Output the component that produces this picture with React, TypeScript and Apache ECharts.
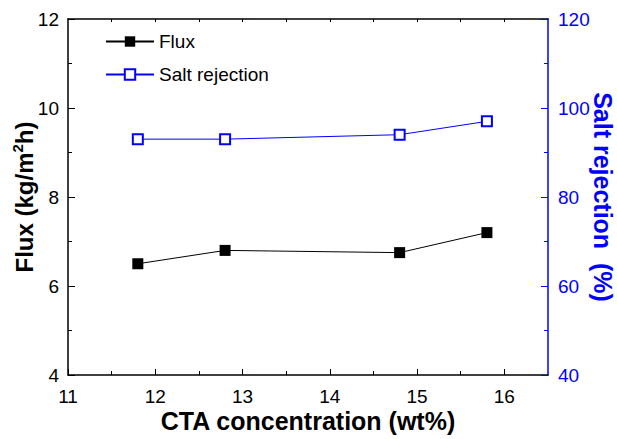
import React, { useEffect, useRef } from "react";
import * as echarts from "echarts";

const FONT = "'Liberation Sans', Arial, Helvetica, sans-serif";
const BLUE = "#0000ff";

const concentration = [11.8, 12.8, 14.8, 15.8];
const fluxValues = [6.5, 6.8, 6.75, 7.2];
const rejectionValues = [93, 93, 94, 97];
const xMajorTicks = [11, 12, 13, 14, 15, 16];
const xMinorTicks = [11.5, 12.5, 13.5, 14.5, 15.5];
const xTopTicks = [11.5, 12, 12.5, 13, 13.5, 14, 14.5, 15, 15.5, 16];

export default function App() {
  const ref = useRef<HTMLDivElement>(null);
  useEffect(() => {
    if (!ref.current) return;
    const chart = echarts.init(ref.current, undefined, { renderer: "svg" });
    const fluxData = concentration.map((x, i) => [x, fluxValues[i]]);
    const rejData = concentration.map((x, i) => [x, rejectionValues[i]]);
    const baseX = {
      type: "value",
      min: 11,
      max: 16.5,
      splitLine: { show: false },
    };
    chart.setOption({
      animation: false,
      backgroundColor: "#ffffff",
      textStyle: { fontFamily: FONT },
      grid: { left: 68, right: 69, top: 19, bottom: 64, containLabel: false, outerBoundsMode: "none" },
      legend: {
        orient: "vertical",
        left: 100,
        top: 27,
        itemWidth: 48,
        itemHeight: 13,
        itemGap: 14,
        textStyle: { fontSize: 19, color: "#000", fontFamily: FONT },
        data: ["Flux", "Salt rejection"],
      },
      xAxis: [
        {
          ...baseX,
          position: "bottom",
          name: "CTA concentration (wt%)",
          nameLocation: "middle",
          nameGap: 33,
          nameMoveOverlap: false,
          nameTextStyle: { fontSize: 25, fontWeight: "bold", color: "#000", fontFamily: FONT },
          axisLine: { show: true, onZero: false, lineStyle: { color: "#000", width: 1.5 } },
          axisTick: { show: true, inside: true, length: 6, customValues: xMajorTicks, lineStyle: { color: "#000", width: 1 } },
          axisLabel: { show: true, customValues: xMajorTicks, margin: 12, fontSize: 19, color: "#000", fontFamily: FONT },
        },
        {
          ...baseX,
          position: "bottom",
          axisLine: { show: false },
          axisTick: { show: true, inside: true, length: 4, customValues: xMinorTicks, lineStyle: { color: "#000", width: 1 } },
          axisLabel: { show: false },
        },
        {
          ...baseX,
          position: "top",
          axisLine: { show: true, onZero: false, lineStyle: { color: "#000", width: 1.5 } },
          axisTick: { show: true, inside: true, length: 3, customValues: xTopTicks, lineStyle: { color: "#000", width: 1 } },
          axisLabel: { show: false },
        },
      ],
      yAxis: [
        {
          type: "value",
          position: "left",
          min: 4,
          max: 12,
          interval: 2,
          splitLine: { show: false },
          name: "{a|Flux (kg/m}{b|2}{a|h)}",
          nameLocation: "middle",
          nameGap: 30,
          nameMoveOverlap: false,
          nameTextStyle: {
            rich: {
              a: { fontSize: 24, fontWeight: "bold", color: "#000", fontFamily: FONT, lineHeight: 28 },
              b: { fontSize: 15, fontWeight: "bold", color: "#000", fontFamily: FONT, lineHeight: 16, verticalAlign: "top" },
            },
          },
          axisLine: { show: true, onZero: false, lineStyle: { color: "#000", width: 1.5 } },
          axisTick: { show: true, inside: true, length: 7, lineStyle: { color: "#000", width: 1 } },
          minorTick: { show: true, splitNumber: 2, length: 4, lineStyle: { color: "#000", width: 1 } },
          axisLabel: { margin: 9, fontSize: 19, color: "#000", fontFamily: FONT },
        },
        {
          type: "value",
          position: "right",
          min: 40,
          max: 120,
          interval: 20,
          splitLine: { show: false },
          name: "Salt rejection  (%)",
          nameLocation: "middle",
          nameRotate: -90,
          nameGap: 42,
          nameMoveOverlap: false,
          nameTextStyle: { fontSize: 25, fontWeight: "bold", color: BLUE, fontFamily: FONT },
          axisLine: { show: true, onZero: false, lineStyle: { color: BLUE, width: 1.5 } },
          axisTick: { show: true, inside: true, length: 7, lineStyle: { color: BLUE, width: 1 } },
          minorTick: { show: true, splitNumber: 2, length: 4, lineStyle: { color: BLUE, width: 1 } },
          axisLabel: { margin: 10, fontSize: 19, color: BLUE, fontFamily: FONT },
        },
      ],
      series: [
        {
          name: "Flux",
          type: "line",
          xAxisIndex: 0,
          yAxisIndex: 0,
          data: fluxData,
          symbol: "rect",
          symbolSize: 11,
          color: "#000",
          itemStyle: { color: "#000" },
          lineStyle: { color: "#000", width: 1 },
        },
        {
          name: "Salt rejection",
          type: "line",
          xAxisIndex: 0,
          yAxisIndex: 1,
          data: rejData,
          symbol: "emptyRect",
          symbolSize: 10,
          color: BLUE,
          itemStyle: { color: BLUE, borderWidth: 1.5 },
          lineStyle: { color: BLUE, width: 1 },
        },
      ],
    });
    return () => chart.dispose();
  }, []);
  return (
    <div
      ref={ref}
      style={{ position: "fixed", left: 0, top: 0, width: 617, height: 439, background: "#fff" }}
    />
  );
}
